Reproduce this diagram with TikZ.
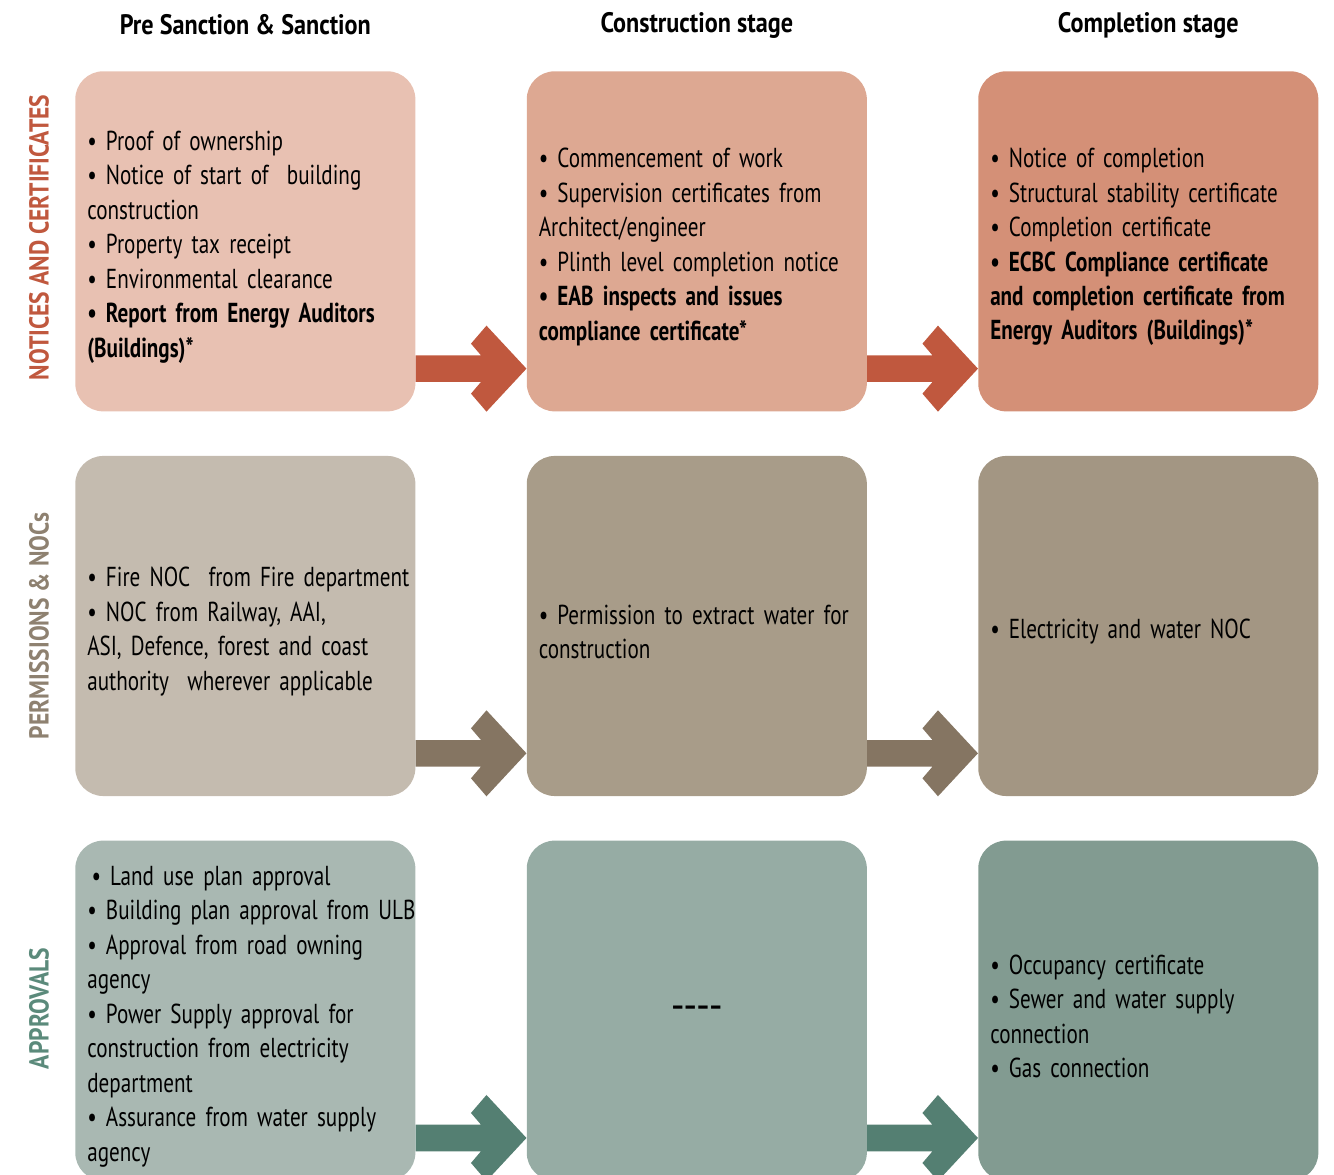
\documentclass[tikz,border=0pt]{standalone}
\usepackage{fontspec}
\setmainfont{PT Sans}[FakeStretch=0.77]
\newfontfamily\headfont{PT Sans}[FakeStretch=0.86]
\usetikzlibrary{positioning,calc}
\definecolor{NoteA}{HTML}{E8C1B2}
\definecolor{NoteB}{HTML}{DDA892}
\definecolor{NoteC}{HTML}{D49077}
\definecolor{NoteArrow}{HTML}{C0583E}
\definecolor{PermA}{HTML}{C4BBAF}
\definecolor{PermB}{HTML}{A89C89}
\definecolor{PermC}{HTML}{A39683}
\definecolor{PermArrow}{HTML}{857562}
\definecolor{PermLabel}{HTML}{8E8170}
\definecolor{ApprA}{HTML}{A9B8B2}
\definecolor{ApprB}{HTML}{96ACA4}
\definecolor{ApprC}{HTML}{829B91}
\definecolor{ApprArrow}{HTML}{547F72}
\definecolor{ApprLabel}{HTML}{5B8A7B}
\newcommand{\cellfont}{\fontsize{19.5}{24.5}\selectfont\hyphenpenalty=10000\hfuzz=20pt\relax}
\newcommand{\topstrut}{\rule{0pt}{22pt}}
\tikzset{
  cell/.style={fill=#1, rounded corners=0.7cm, minimum width=8.5cm, minimum height=8.5cm, text width=7.9cm, inner xsep=0.3cm, align=left, font=\cellfont},
  rowlabel/.style={rotate=90, text=#1, font=\headfont\bfseries\fontsize{19.5}{24}\selectfont},
  colhead/.style={font=\headfont\bfseries\fontsize{20}{24}\selectfont}
}
% block arrow from one cell to the next
\newcommand{\flow}[3]{%
  \coordinate (tip) at ($(#2.south west)+(0,-43)$);
  \fill[#3] ($(#1.east|-tip)+(0,-13.3)$) -- ($(tip)+(-45.5,-13.3)$) -- ($(tip)+(-55.5,-25)$) -- ($(tip)+(-40,-43)$) -- (tip)
    -- ($(tip)+(-40,43)$) -- ($(tip)+(-55.5,25)$) -- ($(tip)+(-45.5,13.3)$) -- ($(#1.east|-tip)+(0,13.3)$) -- cycle;}
\begin{document}
\begin{tikzpicture}[x=0.025cm, y=-0.025cm, node distance=1.1cm and 2.77cm]
  \clip (0,0) rectangle (1334,1175);

  % notices and certificates
  \node[cell=NoteA, anchor=north west] (n1) at (75,71) {\topstrut• Proof of ownership\\\mbox{• Notice of start of\ \ building}\\construction\\• Property tax receipt\\• Environmental clearance\\{\bfseries \mbox{• Report from Energy Auditors}\\(Buildings)*}};
  \node[cell=NoteB, right=of n1] (n2) {\topstrut• Commencement of work\\\mbox{• Supervision certificates from}\\Architect/engineer\\\mbox{• Plinth level completion notice}\\{\bfseries • EAB inspects and issues\\compliance certificate*}};
  \node[cell=NoteC, right=of n2] (n3) {\topstrut• Notice of completion\\\mbox{• Structural stability certificate}\\• Completion certificate\\{\bfseries \mbox{• ECBC Compliance certificate}\\\mbox{and completion certificate from}\\\mbox{Energy Auditors (Buildings)*}}};

  % permissions
  \node[cell=PermA, below=of n1] (p1) {\topstrut\mbox{• Fire NOC\ \ from Fire department}\\• NOC from Railway, AAI,\\\mbox{ASI, Defence, forest and coast}\\\mbox{authority\ \ wherever applicable}};
  \node[cell=PermB, right=of p1] (p2) {\topstrut\mbox{• Permission to extract water for}\\construction};
  \node[cell=PermC, right=of p2] (p3) {\topstrut• Electricity and water NOC};

  % approvals
  \node[cell=ApprA, below=of p1] (a1) {\topstrut\hspace{3pt}• Land use plan approval\\\mbox{• Building plan approval from ULB}\\\mbox{• Approval from road owning}\\agency\\\mbox{• Power Supply approval for}\\\mbox{construction from electricity}\\department\\\mbox{• Assurance from water supply}\\agency};
  \node[cell=ApprB, right=of a1, align=center] (a2) {\raisebox{-4pt}{\bfseries\textendash\textendash\textendash\textendash}};
  \node[cell=ApprC, right=of a2] (a3) {\topstrut• Occupancy certificate\\• Sewer and water supply\\connection\\• Gas connection};

  \flow{n1}{n2}{NoteArrow}
  \flow{n2}{n3}{NoteArrow}
  \flow{p1}{p2}{PermArrow}
  \flow{p2}{p3}{PermArrow}
  \flow{a1}{a2}{ApprArrow}
  \flow{a2}{a3}{ApprArrow}

  \node[rowlabel=NoteArrow] (ln) at ($(n1.west)+(-36,-4)$) {NOTICES AND CERTIFICATES};
  \node[rowlabel=PermLabel] (lp) at ($(p1.west)+(-36,0)$) {PERMISSIONS \& NOCs};
  \node[rowlabel=ApprLabel] (la) at ($(a1.west)+(-36,-2)$) {APPROVALS};

  \node[colhead] (h1) at ($(n1.north)+(0,-46)$) {Pre Sanction \& Sanction};
  \node[colhead] (h2) at ($(n2.north)+(0,-46)$) {Construction stage};
  \node[colhead] (h3) at ($(n3.north)+(0,-46)$) {Completion stage};
\end{tikzpicture}
\end{document}
